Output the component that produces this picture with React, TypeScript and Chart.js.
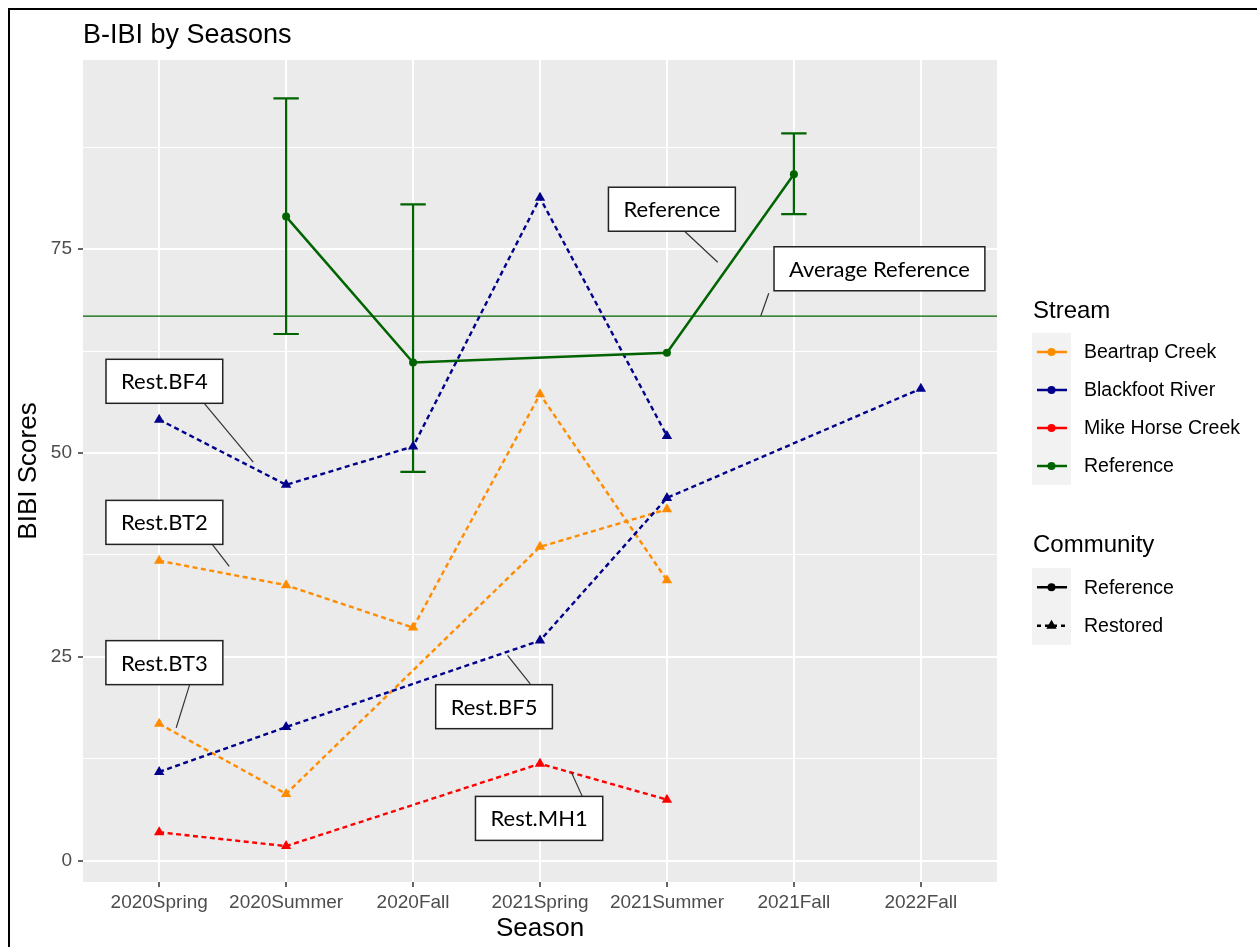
import React, { useEffect, useRef } from 'react';
import { Chart, registerables } from 'chart.js';

Chart.register(...registerables);

// Seasons on the x axis
const seasons = ['2020Spring', '2020Summer', '2020Fall', '2021Spring', '2021Summer', '2021Fall', '2022Fall'];

// Reference community: mean score with error bar limits
const refMean = [null, 79.0, 61.1, null, 62.3, 84.2, null];
const refLow = [null, 64.6, 47.7, null, null, 79.3, null];
const refHigh = [null, 93.5, 80.5, null, null, 89.2, null];
const avgReference = 66.8;

// Restored sites
const bf4 = [54.1, 46.1, 50.8, 81.3, 52.1, null, null];
const bf5 = [10.9, 16.4, null, 27.0, 44.5, null, 57.9];
const bt2 = [36.8, 33.8, 28.6, 57.2, 34.4, null, null];
const bt3 = [16.8, 8.2, null, 38.5, 43.1, null, null];
const mh1 = [3.5, 1.8, null, 11.9, 7.5, null, null];

// Y axis: major and minor breaks
const yTickValues = [0, 12.5, 25, 37.5, 50, 62.5, 75, 87.5];
const yMajorTicks = [0, 25, 50, 75];

// Legend entries
const streamNames = ['Beartrap Creek', 'Blackfoot River', 'Mike Horse Creek', 'Reference'];
const streamColors = ['#FF8C00', '#00008B', '#FF0000', '#006400'];
const communityNames = ['Reference', 'Restored'];

// Site labels: text, box centre, leader start and end (season index, score)
const siteLabels = [
  { text: 'Reference', box: [4.039, 79.9], from: [4.139, 77.2], to: [4.4, 73.4] },
  { text: 'Average Reference', box: [5.674, 72.6], from: [4.802, 69.6], to: [4.739, 66.8] },
  { text: 'Rest.BF4', box: [0.041, 58.8], from: [0.355, 56.1], to: [0.741, 48.9] },
  { text: 'Rest.BT2', box: [0.041, 41.5], from: [0.418, 38.8], to: [0.552, 36.1] },
  { text: 'Rest.BT3', box: [0.041, 24.3], from: [0.242, 21.7], to: [0.134, 16.3] },
  { text: 'Rest.BF5', box: [2.638, 18.9], from: [2.923, 21.7], to: [2.744, 25.2] },
  { text: 'Rest.MH1', box: [2.993, 5.2], from: [3.333, 7.9], to: [3.246, 10.9] },
];

const SANS = '"Liberation Sans", Arial, sans-serif';
const LABEL_FONT = '22px Lato, "Open Sans", sans-serif';
const GREEN = streamColors[3];

const toPoints = (arr: (number | null)[]) =>
  arr.map((v, i) => (v === null ? null : { x: i, y: v })).filter((p) => p !== null) as { x: number; y: number }[];

const restored = (label: string, arr: (number | null)[], color: string) => ({
  label,
  data: toPoints(arr),
  borderColor: color,
  backgroundColor: color,
  borderWidth: 2.4,
  borderDash: [5, 3.5],
  pointStyle: 'triangle',
  pointRadius: 6,
  pointBorderWidth: 0,
  pointBackgroundColor: color,
  spanGaps: true,
});

const ggPlugin = {
  id: 'ggDecor',
  beforeDraw(chart: any) {
    const { ctx, chartArea: a } = chart;
    ctx.save();
    ctx.fillStyle = '#FFFFFF';
    ctx.fillRect(0, 0, chart.width, chart.height);
    ctx.fillStyle = '#EBEBEB';
    ctx.fillRect(a.left, a.top, a.right - a.left, a.bottom - a.top);
    ctx.restore();
  },
  beforeDatasetsDraw(chart: any) {
    const { ctx, chartArea: a, scales } = chart;
    const xs = scales.x, ys = scales.y;
    ctx.save();
    // average reference line
    const ay = ys.getPixelForValue(avgReference);
    ctx.strokeStyle = GREEN;
    ctx.lineWidth = 1.2;
    ctx.beginPath();
    ctx.moveTo(a.left, ay);
    ctx.lineTo(a.right, ay);
    ctx.stroke();
    // error bars
    ctx.lineWidth = 2.2;
    refLow.forEach((lo, i) => {
      const hi = refHigh[i];
      if (lo === null || hi === null) return;
      const cx = xs.getPixelForValue(i);
      const l = xs.getPixelForValue(i - 0.1);
      const r = xs.getPixelForValue(i + 0.1);
      const yl = ys.getPixelForValue(lo);
      const yh = ys.getPixelForValue(hi);
      ctx.beginPath();
      ctx.moveTo(cx, yl);
      ctx.lineTo(cx, yh);
      ctx.moveTo(l, yl);
      ctx.lineTo(r, yl);
      ctx.moveTo(l, yh);
      ctx.lineTo(r, yh);
      ctx.stroke();
    });
    ctx.restore();
  },
  afterDatasetsDraw(chart: any) {
    const { ctx, scales } = chart;
    const xs = scales.x, ys = scales.y;
    ctx.save();
    ctx.font = LABEL_FONT;
    siteLabels.forEach((lab) => {
      const fx = xs.getPixelForValue(lab.from[0]);
      const fy = ys.getPixelForValue(lab.from[1]);
      const tx = xs.getPixelForValue(lab.to[0]);
      const ty = ys.getPixelForValue(lab.to[1]);
      ctx.strokeStyle = '#333333';
      ctx.lineWidth = 1.2;
      ctx.beginPath();
      ctx.moveTo(fx, fy);
      ctx.lineTo(tx, ty);
      ctx.stroke();
      const bx = xs.getPixelForValue(lab.box[0]);
      const by = ys.getPixelForValue(lab.box[1]);
      const w = ctx.measureText(lab.text).width + 30;
      const h = 44;
      ctx.fillStyle = '#FFFFFF';
      ctx.fillRect(bx - w / 2, by - h / 2, w, h);
      ctx.strokeStyle = '#222222';
      ctx.lineWidth = 1.5;
      ctx.strokeRect(bx - w / 2, by - h / 2, w, h);
      ctx.fillStyle = '#000000';
      ctx.textAlign = 'center';
      ctx.textBaseline = 'middle';
      ctx.fillText(lab.text, bx, by + 1);
    });
    ctx.restore();
  },
  afterDraw(chart: any) {
    const { ctx, chartArea: a } = chart;
    ctx.save();
    // title
    ctx.fillStyle = '#000000';
    ctx.font = `27px ${SANS}`;
    ctx.textAlign = 'left';
    ctx.textBaseline = 'alphabetic';
    ctx.fillText('B-IBI by Seasons', a.left, 43);

    // legend: Stream
    const kx = 1032, kw = 39, kh = 38;
    ctx.font = `24px ${SANS}`;
    ctx.fillText('Stream', 1033, 318);
    ctx.fillStyle = '#F2F2F2';
    ctx.fillRect(kx, 333, kw, kh * streamNames.length);
    streamNames.forEach((name, i) => {
      const cy = 333 + kh / 2 + kh * i;
      ctx.strokeStyle = streamColors[i];
      ctx.lineWidth = 2.5;
      ctx.beginPath();
      ctx.moveTo(kx + 5, cy);
      ctx.lineTo(kx + kw - 4, cy);
      ctx.stroke();
      ctx.fillStyle = streamColors[i];
      ctx.beginPath();
      ctx.arc(kx + kw / 2, cy, 4, 0, Math.PI * 2);
      ctx.fill();
      ctx.fillStyle = '#000000';
      ctx.font = `19.5px ${SANS}`;
      ctx.textBaseline = 'middle';
      ctx.fillText(name, 1084, cy + 1);
      ctx.textBaseline = 'alphabetic';
    });

    // legend: Community
    ctx.fillStyle = '#000000';
    ctx.font = `24px ${SANS}`;
    ctx.fillText('Community', 1033, 552);
    ctx.fillStyle = '#F2F2F2';
    ctx.fillRect(kx, 568, kw, 77);
    communityNames.forEach((name, i) => {
      const cy = 568 + 19.25 + 38.5 * i;
      const cx = kx + kw / 2;
      ctx.strokeStyle = '#000000';
      ctx.fillStyle = '#000000';
      ctx.lineWidth = 2.5;
      ctx.setLineDash(i === 1 ? [4, 4] : []);
      ctx.beginPath();
      ctx.moveTo(kx + 5, cy);
      ctx.lineTo(kx + kw - 4, cy);
      ctx.stroke();
      ctx.setLineDash([]);
      ctx.beginPath();
      if (i === 0) {
        ctx.arc(cx, cy, 4, 0, Math.PI * 2);
      } else {
        const r = 6;
        ctx.moveTo(cx, cy - r);
        ctx.lineTo(cx + r * Math.sin((2 * Math.PI) / 3), cy + r / 2);
        ctx.lineTo(cx - r * Math.sin((2 * Math.PI) / 3), cy + r / 2);
        ctx.closePath();
      }
      ctx.fill();
      ctx.font = `19.5px ${SANS}`;
      ctx.textBaseline = 'middle';
      ctx.fillText(name, 1084, cy + 1);
      ctx.textBaseline = 'alphabetic';
    });

    // outer frame
    ctx.fillStyle = '#000000';
    ctx.fillRect(8, 8, chart.width - 8, 2);
    ctx.fillRect(8, 8, 2, chart.height - 8);
    ctx.restore();
  },
};

export default function App() {
  const canvasRef = useRef<HTMLCanvasElement | null>(null);

  useEffect(() => {
    if (!canvasRef.current) return;
    const chart = new Chart(canvasRef.current, {
      type: 'line',
      data: {
        datasets: [
          {
            label: 'Reference',
            data: toPoints(refMean),
            borderColor: GREEN,
            backgroundColor: GREEN,
            borderWidth: 2.5,
            pointStyle: 'circle',
            pointRadius: 4,
            pointBorderWidth: 0,
            pointBackgroundColor: GREEN,
            spanGaps: true,
          },
          restored('Rest.BF4', bf4, streamColors[1]),
          restored('Rest.BF5', bf5, streamColors[1]),
          restored('Rest.BT2', bt2, streamColors[0]),
          restored('Rest.BT3', bt3, streamColors[0]),
          restored('Rest.MH1', mh1, streamColors[2]),
        ] as any,
      },
      options: {
        responsive: false,
        animation: false,
        devicePixelRatio: 1,
        layout: { padding: { left: 0, top: 60, right: 260, bottom: 0 } },
        plugins: {
          legend: { display: false },
          tooltip: { enabled: false },
          title: { display: false },
        },
        scales: {
          x: {
            type: 'linear',
            min: -0.6,
            max: 6.6,
            afterBuildTicks: (s: any) => {
              s.ticks = seasons.map((_, i) => ({ value: i }));
            },
            afterFit: (s: any) => {
              s.height = 65;
            },
            ticks: {
              autoSkip: false,
              maxRotation: 0,
              padding: 4,
              color: '#4D4D4D',
              font: { family: SANS, size: 19 },
              callback: (v: any) => seasons[Math.round(Number(v))] ?? '',
            },
            grid: {
              color: '#FFFFFF',
              lineWidth: 2,
              drawTicks: true,
              tickLength: 5,
              tickWidth: 1.5,
              tickColor: '#333333',
            },
            border: { display: false },
            title: {
              display: true,
              text: 'Season',
              color: '#000000',
              font: { family: SANS, size: 26 },
              padding: { top: 0, bottom: 2.4 },
            },
          },
          y: {
            type: 'linear',
            min: -2.6,
            max: 98.2,
            afterBuildTicks: (s: any) => {
              s.ticks = yTickValues.map((v) => ({ value: v }));
            },
            afterFit: (s: any) => {
              s.width = 83;
            },
            ticks: {
              autoSkip: false,
              padding: 6,
              color: '#4D4D4D',
              font: { family: SANS, size: 19 },
              callback: (v: any) => (yMajorTicks.includes(Number(v)) ? String(v) : ''),
            },
            grid: {
              color: '#FFFFFF',
              lineWidth: (c: any) => (c.tick && yMajorTicks.includes(c.tick.value) ? 2 : 1),
              drawTicks: true,
              tickLength: 5,
              tickWidth: 1.5,
              tickColor: (c: any) =>
                c.tick && yMajorTicks.includes(c.tick.value) ? '#333333' : 'rgba(0,0,0,0)',
            },
            border: { display: false },
            title: {
              display: true,
              text: 'BIBI Scores',
              color: '#000000',
              font: { family: SANS, size: 26 },
              padding: { top: 13, bottom: 0 },
            },
          },
        },
      } as any,
      plugins: [ggPlugin],
    });
    return () => chart.destroy();
  }, []);

  return (
    <div style={{ position: 'fixed', left: 0, top: 0, width: 1257, height: 947, background: '#FFFFFF' }}>
      <canvas ref={canvasRef} width={1257} height={947} style={{ display: 'block' }} />
    </div>
  );
}
